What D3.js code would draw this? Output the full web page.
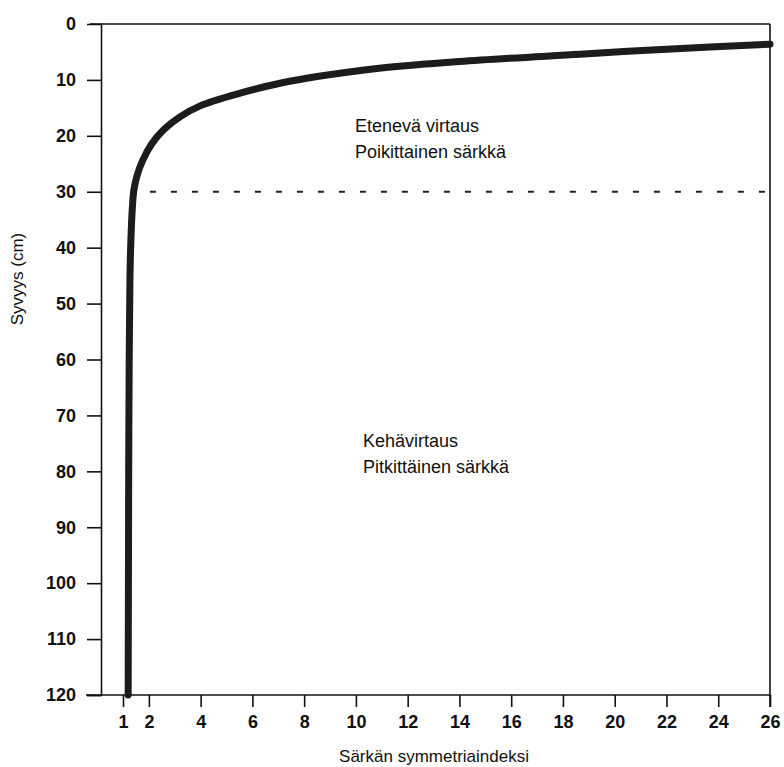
<!DOCTYPE html>
<html>
<head>
<meta charset="utf-8">
<script src="https://cdn.jsdelivr.net/npm/d3@7"></script>
<style>
  body { margin: 0; background: #fff; }
  svg text { font-family: 'Liberation Sans', Arial, Helvetica, sans-serif; fill: #111; }
  .tick-label { font-size: 18px; font-weight: bold; }
  .note { font-size: 18px; }
  .title { font-size: 17px; }
</style>
</head>
<body>
<svg id="chart" width="784" height="767"></svg>
<script>
// curve: symmetry index vs depth (cm)
var curveIndex = [1.2, 1.21, 1.22, 1.24, 1.27, 1.31, 1.36, 1.42, 1.55, 1.77, 2.1, 2.55, 3.2, 4.0, 5.5, 7.07, 8.5, 10.9, 14, 18.66, 22, 26];
var curveDepth = [120, 100, 80, 60, 45, 38, 33, 29.7, 27, 24.3, 21.5, 19, 16.6, 14.6, 12.4, 10.6, 9.4, 7.9, 6.7, 5.4, 4.5, 3.6];
var xTicks = [1, 2, 4, 6, 8, 10, 12, 14, 16, 18, 20, 22, 24, 26];
var yTicks = [0, 10, 20, 30, 40, 50, 60, 70, 80, 90, 100, 110, 120];
var boundaryDepth = 30, boundaryFrom = 2.04, boundaryTo = 26;
var upperLabels = ['Etenevä virtaus', 'Poikittainen särkkä'];
var lowerLabels = ['Kehävirtaus', 'Pitkittäinen särkkä'];
var xTitle = 'Särkän symmetriaindeksi', yTitle = 'Syvyys (cm)';

(function(){
var svg = d3.select('#chart'),
  x = d3.scaleLinear().domain([0.15, 26]).range([101, 770]),
  y = d3.scaleLinear().domain([0, 120]).range([24, 695]),
  pts = curveIndex.map(function(v, i){ return [v, curveDepth[i]]; }),
  g = svg.append('g');

// frame
g.append('line').attr('x1', 90).attr('x2', x(26)).attr('y1', y(0)).attr('y2', y(0))
  .attr('stroke', '#111').attr('stroke-width', 1.6);
g.append('line').attr('x1', x(26)).attr('x2', x(26)).attr('y1', y(0)).attr('y2', y(120) + 12)
  .attr('stroke', '#111').attr('stroke-width', 1.6);

// y axis
var yAxis = g.append('g').attr('transform', 'translate(' + x(0.15) + ',0)')
  .call(d3.axisLeft(y).tickValues(yTicks).tickSize(14).tickPadding(10));
yAxis.select('.domain').attr('stroke', '#111').attr('stroke-width', 1.6);
yAxis.selectAll('.tick line').attr('stroke', '#111').attr('stroke-width', 1.6)
  .filter(function(d){ return d === 0; }).remove();
yAxis.selectAll('.tick text').attr('class', 'tick-label').attr('font-size', null).attr('font-family', null)
  .attr('x', -25);

// x axis
var xAxis = g.append('g').attr('transform', 'translate(0,' + y(120) + ')')
  .call(d3.axisBottom(x).tickValues(xTicks).tickSize(12).tickPadding(8).tickSizeOuter(0));
xAxis.select('.domain').attr('d', 'M86,0H' + x(26)).attr('stroke', '#111').attr('stroke-width', 1.6);
xAxis.selectAll('.tick line').attr('stroke', '#111').attr('stroke-width', 1.6);
xAxis.selectAll('.tick text').attr('class', 'tick-label').attr('font-size', null).attr('font-family', null);

// boundary at 30 cm
g.append('line')
  .attr('x1', x(boundaryFrom)).attr('x2', x(boundaryTo))
  .attr('y1', y(boundaryDepth)).attr('y2', y(boundaryDepth))
  .attr('stroke', '#222').attr('stroke-width', 1.8).attr('stroke-dasharray', '6,15');

// curve
g.append('path').datum(pts)
  .attr('d', d3.line().x(function(d){ return x(d[0]); }).y(function(d){ return y(d[1]); })
    .curve(d3.curveCatmullRom.alpha(0.5)))
  .attr('fill', 'none').attr('stroke', '#1c1c1c').attr('stroke-width', 7)
  .attr('stroke-linecap', 'round').attr('stroke-linejoin', 'round');

// notes
upperLabels.forEach(function(t, i){
  g.append('text').attr('class', 'note').attr('x', 355).attr('y', 132 + i * 26).text(t);
});
lowerLabels.forEach(function(t, i){
  g.append('text').attr('class', 'note').attr('x', 363).attr('y', 447 + i * 26).text(t);
});

// titles
g.append('text').attr('class', 'title').attr('x', 434).attr('y', 762)
  .attr('text-anchor', 'middle').text(xTitle);
g.append('text').attr('class', 'title')
  .attr('transform', 'translate(23,279) rotate(-90)')
  .attr('text-anchor', 'middle').text(yTitle);
})();
</script>
</body>
</html>
